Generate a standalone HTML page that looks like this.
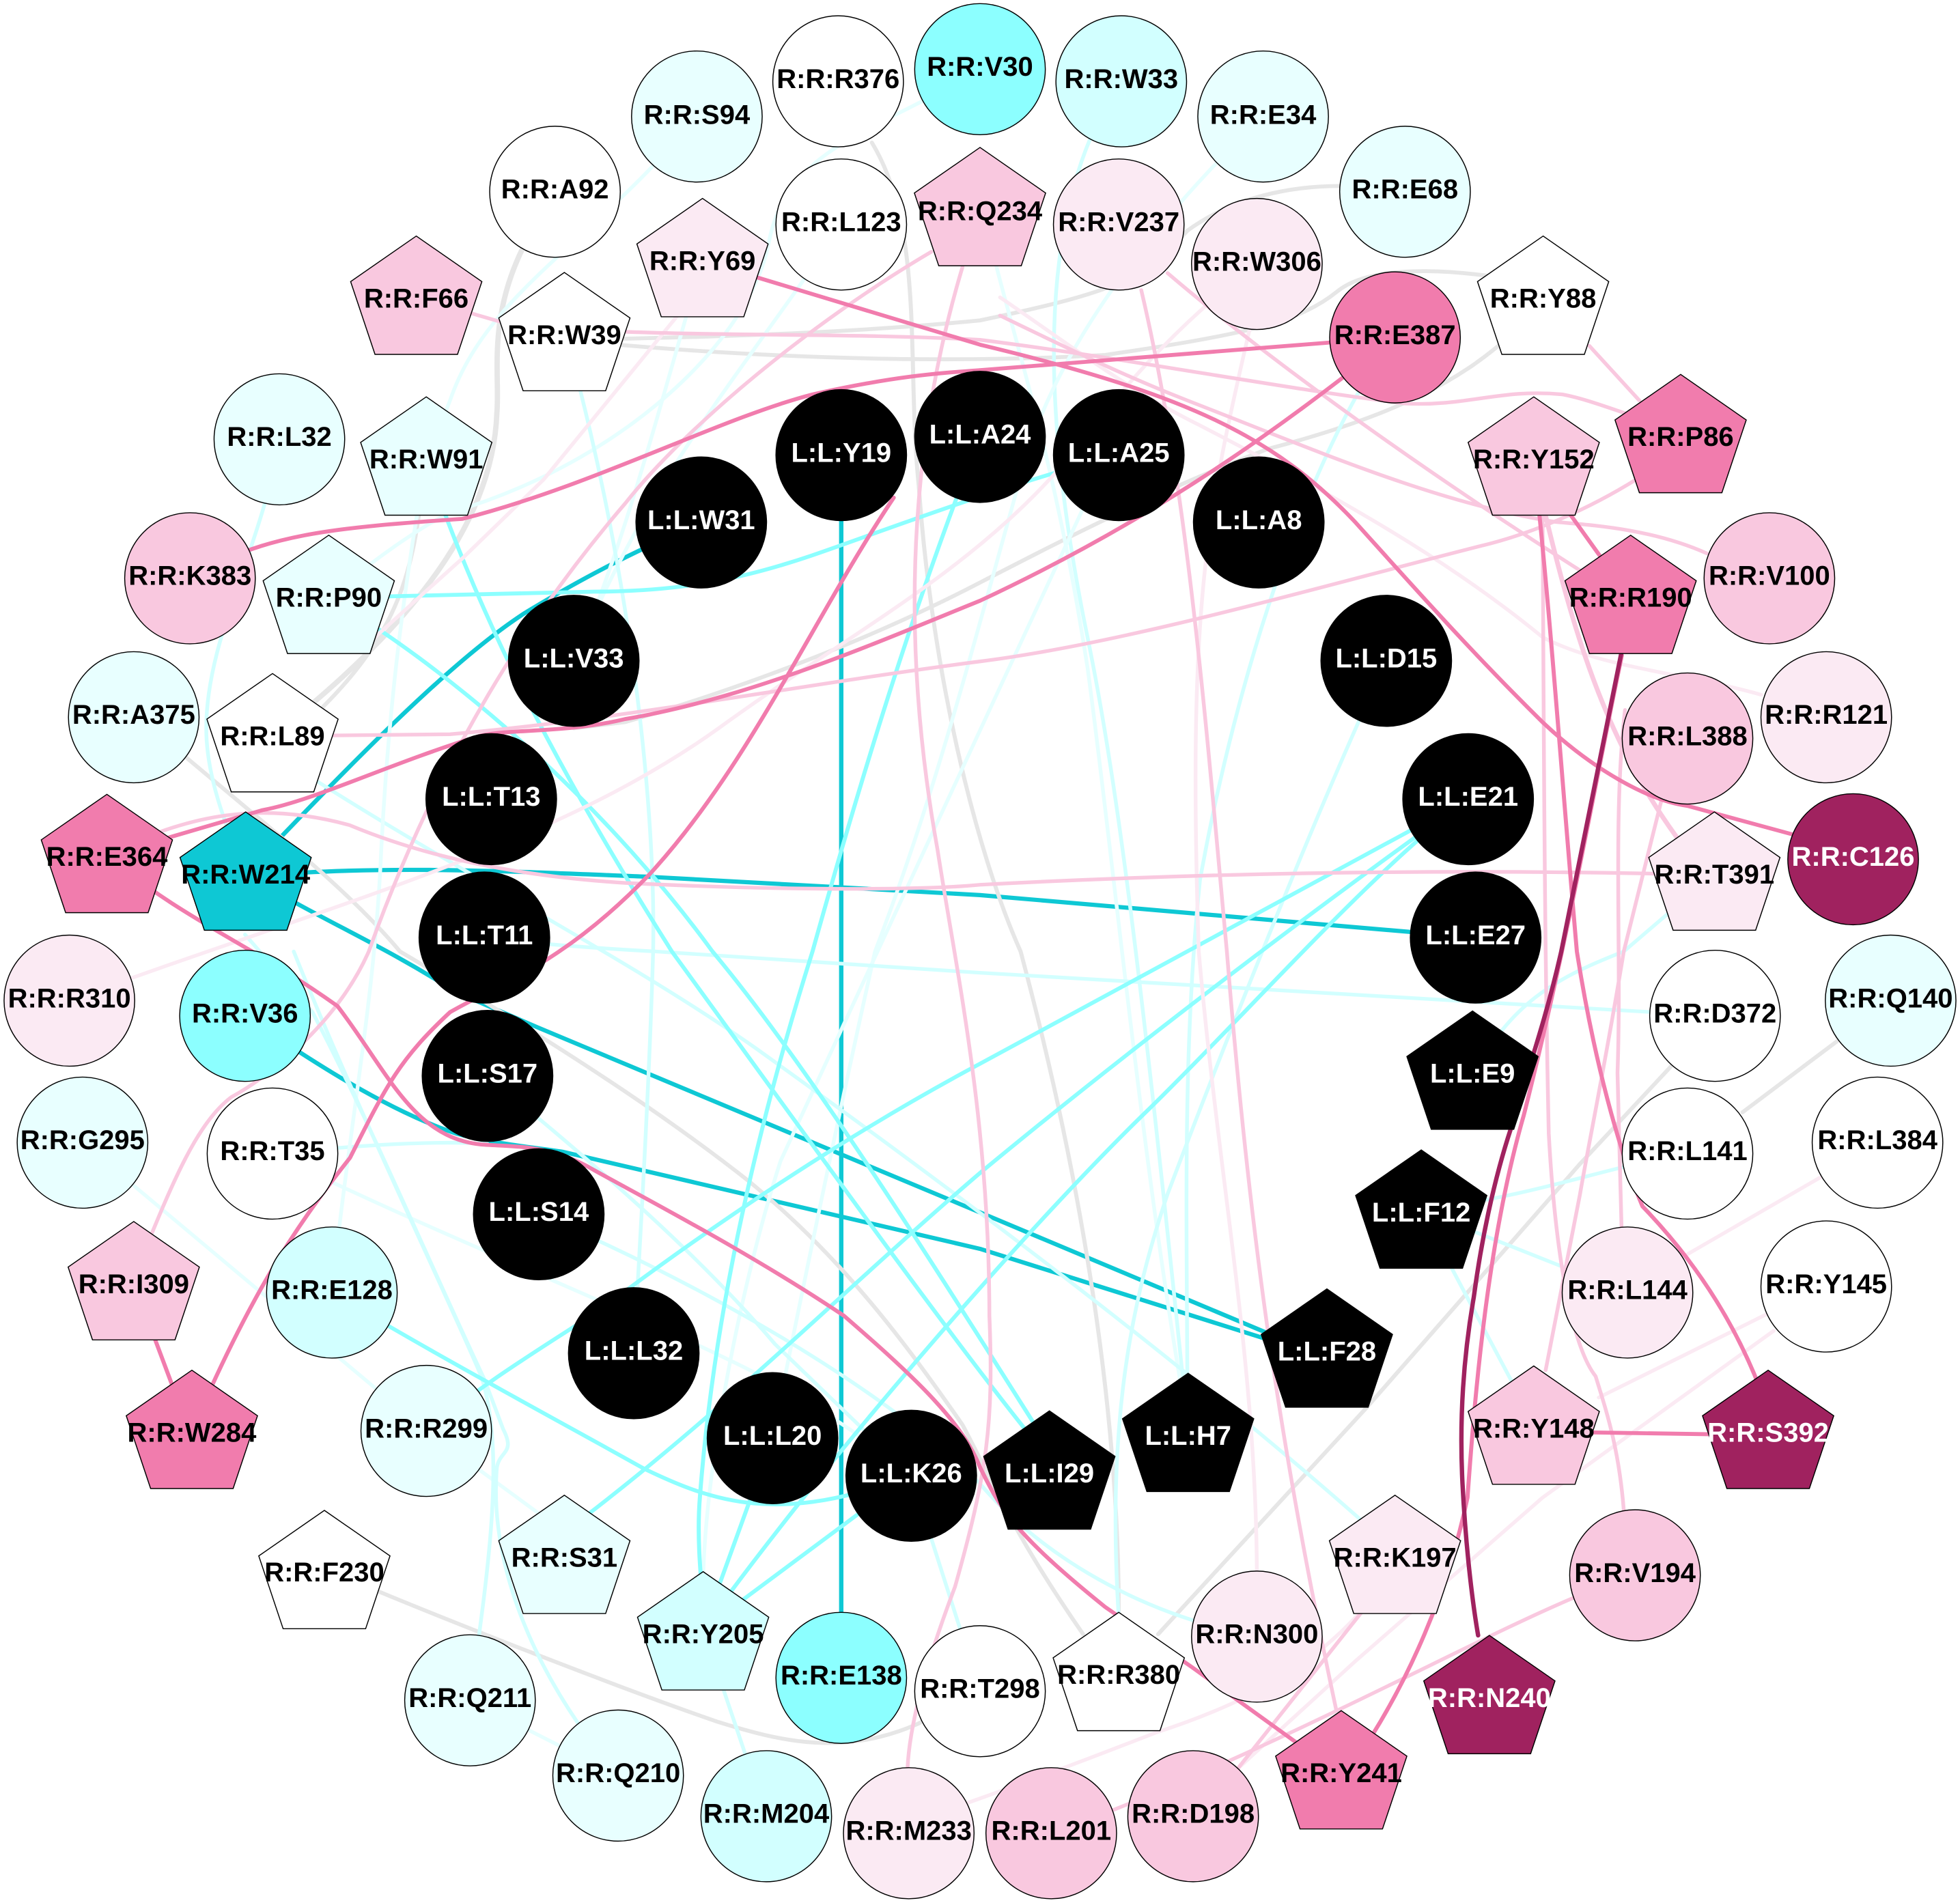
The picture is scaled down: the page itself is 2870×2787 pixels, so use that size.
<!DOCTYPE html>
<html><head><meta charset="utf-8"><style>
html,body{margin:0;padding:0;background:#fff}
svg{display:block}
path{fill:none;stroke-linecap:round;stroke-linejoin:round}
.g path{stroke:#e6e6e6;stroke-width:6.5}
.l path{stroke:#e6ffff;stroke-width:6}
.l path.d{stroke:#d2ffff}
.c path{stroke:#8cffff;stroke-width:6.5}
.q path{stroke:#fbeaf3;stroke-width:6}
.k path{stroke:#f9c8df;stroke-width:6}
.h path{stroke:#f17cad;stroke-width:6.5}
.t path{stroke:#0ec8d4;stroke-width:7}
.m path{stroke:#a0225f;stroke-width:7}
ellipse,polygon{stroke:#000;stroke-width:1.6}
text{font-family:"Liberation Sans",Arial,sans-serif;font-weight:bold;font-size:45px;text-anchor:middle;fill:#000;text-rendering:geometricPrecision;transform-box:fill-box;transform-origin:center;transform:scaleX(.971)}
text.w{fill:#fff}
</style></head><body>
<svg xmlns="http://www.w3.org/2000/svg" width="2870" height="2787" viewBox="0 0 3136 3136" preserveAspectRatio="none">
<rect width="3136" height="3136" fill="#fff"/>
<g class="t">
<path d="M1346 750V2765"/>
<path d="M393 1440C560 1260 720 1090 840 1010C920 960 1000 915 1122 861"/>
<path d="M393 1445C600 1425 800 1435 1040 1445L1568 1475L2361 1545"/>
<path d="M393 1440C520 1520 600 1550 730 1635L860 1693L1568 1998L2123 2238"/>
<path d="M392 1674C500 1750 620 1830 730 1868C790 1885 850 1890 900 1898L1568 2058L2123 2238"/>
</g>
<g class="g">
<path style="stroke-width:8.5" d="M835 412C780 530 800 620 795 680C790 830 700 1000 436 1213"/>
<path d="M670 850C650 1000 600 1100 436 1240"/>
<path d="M1395 235C1480 380 1450 600 1470 800C1490 1100 1560 1400 1633 1568C1700 1825 1790 2245 1790 2658"/>
<path d="M2248 316C2100 290 1980 320 1900 380C1830 460 1790 480 1568 528C1400 545 1200 555 903 560"/>
<path d="M2469 470C2350 445 2200 430 2140 480C2080 530 2000 550 1768 585C1600 595 1300 600 903 560"/>
<path d="M2403 565C2340 620 2250 680 2028 740C1850 810 1700 890 1568 960C1400 1050 1200 1130 1000 1190L918 1200"/>
<path d="M214 1182L300 1250C450 1380 560 1470 640 1568C750 1635 1000 1785 1200 1948C1350 2075 1450 2215 1540 2348C1590 2445 1620 2525 1733 2693"/>
<path d="M2744 1674L2673 1758L2528 1918L2188 2318L1853 2693"/>
<path d="M2943 1713L2788 1833"/>
<path d="M519 2585C700 2665 1000 2785 1150 2838C1250 2870 1350 2895 1470 2840L1568 2787"/>
</g>
<g class="l">
<path d="M1568 114C1400 220 1260 240 1230 400C1200 560 1000 760 720 845C670 870 600 920 526 985"/>
<path d="M1115 192C950 400 780 480 720 660L682 760"/>
<path d="M1346 370C1200 600 1050 760 918 1089"/>
<path d="M1124 430C1060 650 1000 900 918 1089"/>
<path class="d" d="M903 545C1000 900 1050 1300 1045 1568C1040 1745 1030 1945 1014 2230"/>
<path class="d" d="M1794 134C1650 350 1670 700 1740 1050C1790 1300 1830 1645 1900 2345"/>
<path d="M2021 192C1870 340 1700 550 1640 760C1560 1050 1500 1300 1400 1568C1340 1845 1280 2145 1236 2370"/>
<path d="M1750 800L1502 1350L1249 1913C1190 2100 1130 2400 1125 2600"/>
<path d="M1568 320C1600 500 1680 700 1740 1100C1780 1400 1830 1945 1900 2345"/>
<path class="d" d="M2218 1089C2100 1350 1950 1745 1868 1968C1810 2145 1770 2345 1790 2665"/>
<path class="d" d="M2232 556C2120 700 1990 1050 1920 1450C1890 1745 1900 2045 1900 2365"/>
<path class="d" d="M436 1901C600 1885 700 1880 780 1885"/>
<path d="M436 1901C700 2035 1000 2155 1200 2258C1290 2305 1380 2365 1458 2432"/>
<path class="d" d="M775 1545C900 1560 1000 1565 1050 1568L1568 1603L2744 1674"/>
<path class="d" d="M436 1240C700 1420 1000 1575 1210 1728C1450 1905 1900 2245 2232 2555"/>
<path class="d" d="M2700 1901C2560 1925 2480 1965 2274 1995"/>
<path class="d" d="M2274 1995L2454 2345"/>
<path class="d" d="M2604 2130L2274 1995"/>
<path class="d" d="M2356 1770C2420 1655 2480 1615 2598 1568L2743 1440"/>
<path d="M531 2130C560 1845 600 1645 610 1400C620 1200 640 1000 682 760"/>
<path d="M132 1883L682 2358"/>
<path d="M682 2358L903 2525"/>
<path class="d" d="M752 2802C780 2595 810 2395 770 2268C720 2145 570 1825 470 1568"/>
<path class="d" d="M989 2926C880 2795 780 2605 795 2418C800 2390 825 2395 805 2355L775 2273C680 2065 590 1845 500 1668L392 1540"/>
<path d="M752 2802L989 2926"/>
<path class="d" d="M1226 2993L1125 2685"/>
<path class="d" d="M1458 2432L1568 2787"/>
<path class="d" d="M862 2001C1100 2105 1400 2275 1568 2445C1650 2545 1800 2655 2011 2697"/>
<path class="d" d="M780 1773C900 1875 1100 2045 1240 2215L1458 2432"/>
<path class="d" d="M447 724C420 900 330 1050 330 1200C330 1290 370 1380 393 1440"/>
</g>
<g class="c">
<path d="M526 985L950 975C1100 975 1200 950 1300 915C1400 880 1600 800 1790 750"/>
<path d="M682 760C760 1000 880 1250 1075 1568C1250 1815 1500 2175 1640 2355"/>
<path d="M526 985C700 1090 950 1300 1140 1568C1300 1765 1500 2095 1660 2355"/>
<path d="M531 2130C700 2235 900 2345 1030 2420C1140 2475 1250 2515 1458 2430"/>
<path d="M2349 1317L1568 1753C1400 1845 1200 1975 1000 2128C930 2185 800 2255 682 2358"/>
<path d="M2349 1317C2100 1500 1800 1735 1568 1933C1350 2125 1150 2335 903 2525"/>
<path d="M2349 1317C2200 1430 2000 1665 1838 1828C1670 1995 1350 2365 1125 2685"/>
<path d="M1568 720C1480 950 1400 1200 1300 1568C1200 1895 1140 2195 1120 2465C1115 2525 1120 2585 1125 2645"/>
<path d="M1236 2370L1125 2685"/>
<path d="M1458 2430L1125 2685"/>
</g>
<g class="q">
<path d="M2838 2193L2468 2468L2168 2738L1980 2915"/>
<path d="M2828 2165L2558 2303"/>
<path d="M2913 1940L2698 2068"/>
<path d="M111 1649C500 1500 880 1400 1150 1200C1350 1050 1540 950 1688 780C1760 690 1850 560 2011 435"/>
<path d="M2178 2655C2100 2745 2000 2805 1850 2855C1750 2895 1650 2935 1454 3005"/>
<path d="M2000 540C1930 850 1900 1000 1918 1568C1950 1945 2010 2245 2011 2595"/>
<path d="M2818 1145C2700 1110 2560 1100 2468 1050C2350 950 2200 850 1918 700C1800 640 1700 560 1600 490"/>
<path d="M1100 500L870 790L740 920L600 1050"/>
</g>
<g class="k">
<path d="M1540 440C1470 680 1430 1000 1500 1400C1530 1600 1583 1845 1583 2168C1590 2345 1580 2425 1528 2615C1480 2745 1455 2845 1452 2915"/>
<path d="M1490 415C1300 530 1100 700 1000 830C850 1010 700 1250 590 1568C540 1685 430 1775 370 1808C310 1855 270 1965 214 2105"/>
<path d="M1826 478C1900 800 1930 1200 1963 1568C2000 2045 2050 2395 2138 2818"/>
<path d="M2543 570L2623 660"/>
<path d="M666 490L800 530C1000 560 1300 545 1568 560C1800 590 2050 640 2248 665C2350 670 2400 640 2500 650C2550 660 2590 680 2689 710"/>
<path d="M2731 912C2640 870 2540 865 2488 860C2300 830 2100 740 1900 660C1800 620 1700 570 1600 520"/>
<path d="M1868 450C2050 610 2300 790 2528 940"/>
<path d="M436 1213L720 1210C1000 1185 1300 1125 1568 1090C1800 1060 2100 970 2368 900C2450 880 2540 840 2618 790"/>
<path d="M171 1410C300 1340 420 1320 560 1360C700 1420 850 1445 1000 1455C1300 1470 1500 1465 1568 1458C1900 1440 2300 1430 2743 1442"/>
<path d="M2658 1320L2598 1568C2570 1745 2540 1895 2528 1968L2473 2258"/>
<path d="M2468 850C2470 1100 2470 1500 2478 1868C2490 2095 2520 2225 2553 2268C2570 2325 2590 2385 2598 2488"/>
<path style="stroke-width:7.5" d="M2473 850C2520 1050 2570 1220 2683 1380"/>
<path d="M2600 1170C2580 1350 2595 1568 2588 1768L2595 2045"/>
<path d="M2518 2633C2350 2705 2000 2905 1682 3021"/>
<path d="M2180 2655L1980 2915"/>
</g>
<g class="h">
<path d="M1124 430L1568 568C1900 650 2040 720 2168 860C2260 965 2350 1070 2468 1190C2550 1270 2640 1320 2700 1328L2868 1375L2965 1416"/>
<path d="M304 953C420 880 530 870 740 855C950 800 1150 690 1300 650C1430 620 1500 615 1568 610L2232 556"/>
<path d="M2232 556C2100 660 1900 830 1568 990C1400 1060 1200 1150 1000 1185C900 1210 800 1200 760 1215C620 1260 500 1320 420 1335L171 1410"/>
<path d="M171 1410C300 1520 400 1555 540 1658C620 1765 660 1875 770 1886C820 1890 880 1885 950 1928C1050 1985 1200 2065 1350 2168C1470 2275 1540 2345 1568 2418C1600 2485 1620 2525 1768 2648L1908 2748L2146 2925"/>
<path d="M307 2358C400 2135 470 2025 560 1908C620 1785 640 1745 720 1668C800 1620 900 1590 1040 1440C1200 1260 1300 1020 1430 820"/>
<path d="M240 2185L280 2295"/>
<path d="M2454 2359L2829 2365"/>
<path d="M2500 830L2580 945"/>
<path d="M2454 760C2480 1000 2500 1300 2523 1568C2550 1745 2590 1895 2628 1988C2700 2065 2780 2175 2829 2325"/>
<path d="M2595 1080C2550 1300 2510 1545 2438 1838C2380 2045 2360 2295 2348 2468C2320 2605 2260 2775 2146 2935"/>
</g>
<g class="m">
<path d="M2609 1000L2498 1568C2470 1695 2440 1775 2418 1858C2390 1945 2370 2045 2358 2138C2340 2245 2335 2345 2340 2445C2345 2545 2355 2635 2365 2695"/>
</g>

<!-- circles -->
<ellipse cx="1115" cy="192" rx="104.5" ry="108" fill="#e8ffff"/><text x="1115" y="204">R:R:S94</text>
<ellipse cx="1341" cy="134" rx="104.5" ry="108" fill="#fff"/><text x="1341" y="145">R:R:R376</text>
<ellipse cx="1568" cy="114" rx="104.5" ry="108" fill="#8cffff"/><text x="1568" y="125">R:R:V30</text>
<ellipse cx="888" cy="316" rx="104.5" ry="108" fill="#fff"/><text x="888" y="327">R:R:A92</text>
<ellipse cx="1346" cy="370" rx="104.5" ry="108" fill="#fff"/><text x="1346" y="381">R:R:L123</text>
<ellipse cx="447" cy="724" rx="104.5" ry="108" fill="#e8ffff"/><text x="447" y="735">R:R:L32</text>
<ellipse cx="304" cy="953" rx="104.5" ry="108" fill="#f9c8df"/><text x="304" y="964">R:R:K383</text>
<ellipse cx="214" cy="1182" rx="104.5" ry="108" fill="#e8ffff"/><text x="214" y="1193">R:R:A375</text>
<ellipse cx="1794" cy="134" rx="104.5" ry="108" fill="#d2ffff"/><text x="1794" y="145">R:R:W33</text>
<ellipse cx="2021" cy="192" rx="104.5" ry="108" fill="#e8ffff"/><text x="2021" y="204">R:R:E34</text>
<ellipse cx="2248" cy="316" rx="104.5" ry="108" fill="#e8ffff"/><text x="2248" y="327">R:R:E68</text>
<ellipse cx="1790" cy="370" rx="104.5" ry="108" fill="#fbeaf3"/><text x="1790" y="381">R:R:V237</text>
<ellipse cx="2011" cy="435" rx="104.5" ry="108" fill="#fbeaf3"/><text x="2011" y="446">R:R:W306</text>
<ellipse cx="2232" cy="556" rx="104.5" ry="108" fill="#f17cad"/><text x="2232" y="567">R:R:E387</text>
<ellipse cx="2831" cy="953" rx="104.5" ry="108" fill="#f9c8df"/><text x="2831" y="964">R:R:V100</text>
<ellipse cx="2922" cy="1182" rx="104.5" ry="108" fill="#fbeaf3"/><text x="2922" y="1193">R:R:R121</text>
<ellipse cx="2700" cy="1217" rx="104.5" ry="108" fill="#f9c8df"/><text x="2700" y="1228">R:R:L388</text>
<ellipse cx="2965" cy="1416" rx="104.5" ry="108" fill="#a0225f"/><text class="w" x="2965" y="1427">R:R:C126</text>
<ellipse cx="111" cy="1649" rx="104.5" ry="108" fill="#fbeaf3"/><text x="111" y="1660">R:R:R310</text>
<ellipse cx="392" cy="1674" rx="104.5" ry="108" fill="#8cffff"/><text x="392" y="1685">R:R:V36</text>
<ellipse cx="132" cy="1883" rx="104.5" ry="108" fill="#e8ffff"/><text x="132" y="1894">R:R:G295</text>
<ellipse cx="436" cy="1901" rx="104.5" ry="108" fill="#fff"/><text x="436" y="1912">R:R:T35</text>
<ellipse cx="531" cy="2130" rx="104.5" ry="108" fill="#d2ffff"/><text x="531" y="2141">R:R:E128</text>
<ellipse cx="682" cy="2358" rx="104.5" ry="108" fill="#e8ffff"/><text x="682" y="2369">R:R:R299</text>
<ellipse cx="1346" cy="2765" rx="104.5" ry="108" fill="#8cffff"/><text x="1346" y="2776">R:R:E138</text>
<ellipse cx="752" cy="2802" rx="104.5" ry="108" fill="#e8ffff"/><text x="752" y="2813">R:R:Q211</text>
<ellipse cx="989" cy="2926" rx="104.5" ry="108" fill="#e8ffff"/><text x="989" y="2937">R:R:Q210</text>
<ellipse cx="1226" cy="2993" rx="104.5" ry="108" fill="#d2ffff"/><text x="1226" y="3004">R:R:M204</text>
<ellipse cx="1454" cy="3021" rx="104.5" ry="108" fill="#fbeaf3"/><text x="1454" y="3032">R:R:M233</text>
<ellipse cx="1568" cy="2787" rx="104.5" ry="108" fill="#fff"/><text x="1568" y="2798">R:R:T298</text>
<ellipse cx="2744" cy="1674" rx="104.5" ry="108" fill="#fff"/><text x="2744" y="1685">R:R:D372</text>
<ellipse cx="3025" cy="1649" rx="104.5" ry="108" fill="#e8ffff"/><text x="3025" y="1660">R:R:Q140</text>
<ellipse cx="2700" cy="1901" rx="104.5" ry="108" fill="#fff"/><text x="2700" y="1912">R:R:L141</text>
<ellipse cx="3004" cy="1883" rx="104.5" ry="108" fill="#fff"/><text x="3004" y="1894">R:R:L384</text>
<ellipse cx="2604" cy="2130" rx="104.5" ry="108" fill="#fbeaf3"/><text x="2604" y="2141">R:R:L144</text>
<ellipse cx="2922" cy="2120" rx="104.5" ry="108" fill="#fff"/><text x="2922" y="2131">R:R:Y145</text>
<ellipse cx="2616" cy="2596" rx="104.5" ry="108" fill="#f9c8df"/><text x="2616" y="2607">R:R:V194</text>
<ellipse cx="2011" cy="2697" rx="104.5" ry="108" fill="#fbeaf3"/><text x="2011" y="2708">R:R:N300</text>
<ellipse cx="1682" cy="3021" rx="104.5" ry="108" fill="#f9c8df"/><text x="1682" y="3032">R:R:L201</text>
<ellipse cx="1909" cy="2993" rx="104.5" ry="108" fill="#f9c8df"/><text x="1909" y="3004">R:R:D198</text>

<!-- black circles -->
<ellipse cx="1346" cy="750" rx="104.5" ry="108" fill="#000"/><text class="w" x="1346" y="761">L:L:Y19</text>
<ellipse cx="1568" cy="720" rx="104.5" ry="108" fill="#000"/><text class="w" x="1568" y="731">L:L:A24</text>
<ellipse cx="1122" cy="861" rx="104.5" ry="108" fill="#000"/><text class="w" x="1122" y="872">L:L:W31</text>
<ellipse cx="918" cy="1089" rx="104.5" ry="108" fill="#000"/><text class="w" x="918" y="1100">L:L:V33</text>
<ellipse cx="786" cy="1317" rx="104.5" ry="108" fill="#000"/><text class="w" x="786" y="1328">L:L:T13</text>
<ellipse cx="775" cy="1545" rx="104.5" ry="108" fill="#000"/><text class="w" x="775" y="1556">L:L:T11</text>
<ellipse cx="1790" cy="750" rx="104.5" ry="108" fill="#000"/><text class="w" x="1790" y="761">L:L:A25</text>
<ellipse cx="2014" cy="861" rx="104.5" ry="108" fill="#000"/><text class="w" x="2014" y="872">L:L:A8</text>
<ellipse cx="2218" cy="1089" rx="104.5" ry="108" fill="#000"/><text class="w" x="2218" y="1100">L:L:D15</text>
<ellipse cx="2349" cy="1317" rx="104.5" ry="108" fill="#000"/><text class="w" x="2349" y="1328">L:L:E21</text>
<ellipse cx="2361" cy="1545" rx="104.5" ry="108" fill="#000"/><text class="w" x="2361" y="1556">L:L:E27</text>
<ellipse cx="780" cy="1773" rx="104.5" ry="108" fill="#000"/><text class="w" x="780" y="1784">L:L:S17</text>
<ellipse cx="862" cy="2001" rx="104.5" ry="108" fill="#000"/><text class="w" x="862" y="2012">L:L:S14</text>
<ellipse cx="1014" cy="2230" rx="104.5" ry="108" fill="#000"/><text class="w" x="1014" y="2241">L:L:L32</text>
<ellipse cx="1236" cy="2370" rx="104.5" ry="108" fill="#000"/><text class="w" x="1236" y="2381">L:L:L20</text>
<ellipse cx="1458" cy="2432" rx="104.5" ry="108" fill="#000"/><text class="w" x="1458" y="2443">L:L:K26</text>

<!-- pentagons -->
<polygon transform="translate(1124,327)" points="0,0 105,75 66,195 -66,195 -105,75" fill="#fbeaf3"/><text x="1124" y="445">R:R:Y69</text>
<polygon transform="translate(666,389)" points="0,0 105,75 66,195 -66,195 -105,75" fill="#f9c8df"/><text x="666" y="507">R:R:F66</text>
<polygon transform="translate(903,449)" points="0,0 105,75 66,195 -66,195 -105,75" fill="#fff"/><text x="903" y="567">R:R:W39</text>
<polygon transform="translate(682,654)" points="0,0 105,75 66,195 -66,195 -105,75" fill="#e8ffff"/><text x="682" y="772">R:R:W91</text>
<polygon transform="translate(526,882)" points="0,0 105,75 66,195 -66,195 -105,75" fill="#e8ffff"/><text x="526" y="1000">R:R:P90</text>
<polygon transform="translate(436,1110)" points="0,0 105,75 66,195 -66,195 -105,75" fill="#fff"/><text x="436" y="1228">R:R:L89</text>
<polygon transform="translate(171,1309)" points="0,0 105,75 66,195 -66,195 -105,75" fill="#f17cad"/><text x="171" y="1427">R:R:E364</text>
<polygon transform="translate(393,1338)" points="0,0 105,75 66,195 -66,195 -105,75" fill="#0ec8d4"/><text x="393" y="1456">R:R:W214</text>
<polygon transform="translate(1568,243)" points="0,0 105,75 66,195 -66,195 -105,75" fill="#f9c8df"/><text x="1568" y="363">R:R:Q234</text>
<polygon transform="translate(2469,389)" points="0,0 105,75 66,195 -66,195 -105,75" fill="#fff"/><text x="2469" y="507">R:R:Y88</text>
<polygon transform="translate(2689,617)" points="0,0 105,75 66,195 -66,195 -105,75" fill="#f17cad"/><text x="2689" y="735">R:R:P86</text>
<polygon transform="translate(2454,654)" points="0,0 105,75 66,195 -66,195 -105,75" fill="#f9c8df"/><text x="2454" y="772">R:R:Y152</text>
<polygon transform="translate(2609,882)" points="0,0 105,75 66,195 -66,195 -105,75" fill="#f17cad"/><text x="2609" y="1000">R:R:R190</text>
<polygon transform="translate(2743,1338)" points="0,0 105,75 66,195 -66,195 -105,75" fill="#fbeaf3"/><text x="2743" y="1456">R:R:T391</text>
<polygon transform="translate(214,2013)" points="0,0 105,75 66,195 -66,195 -105,75" fill="#f9c8df"/><text x="214" y="2131">R:R:I309</text>
<polygon transform="translate(307,2258)" points="0,0 105,75 66,195 -66,195 -105,75" fill="#f17cad"/><text x="307" y="2376">R:R:W284</text>
<polygon transform="translate(519,2489)" points="0,0 105,75 66,195 -66,195 -105,75" fill="#fff"/><text x="519" y="2606">R:R:F230</text>
<polygon transform="translate(903,2464)" points="0,0 105,75 66,195 -66,195 -105,75" fill="#e8ffff"/><text x="903" y="2582">R:R:S31</text>
<polygon transform="translate(1125,2590)" points="0,0 105,75 66,195 -66,195 -105,75" fill="#d2ffff"/><text x="1125" y="2708">R:R:Y205</text>
<polygon transform="translate(2454,2251)" points="0,0 105,75 66,195 -66,195 -105,75" fill="#f9c8df"/><text x="2454" y="2369">R:R:Y148</text>
<polygon transform="translate(2829,2258)" points="0,0 105,75 66,195 -66,195 -105,75" fill="#a0225f"/><text class="w" x="2829" y="2376">R:R:S392</text>
<polygon transform="translate(2232,2464)" points="0,0 105,75 66,195 -66,195 -105,75" fill="#fbeaf3"/><text x="2232" y="2582">R:R:K197</text>
<polygon transform="translate(1790,2657)" points="0,0 105,75 66,195 -66,195 -105,75" fill="#fff"/><text x="1790" y="2775">R:R:R380</text>
<polygon transform="translate(2383,2695)" points="0,0 105,75 66,195 -66,195 -105,75" fill="#a0225f"/><text class="w" x="2383" y="2813">R:R:N240</text>
<polygon transform="translate(2146,2819)" points="0,0 105,75 66,195 -66,195 -105,75" fill="#f17cad"/><text x="2146" y="2937">R:R:Y241</text>
<polygon transform="translate(2356,1666)" points="0,0 105,75 66,195 -66,195 -105,75" fill="#000"/><text class="w" x="2356" y="1784">L:L:E9</text>
<polygon transform="translate(2274,1895)" points="0,0 105,75 66,195 -66,195 -105,75" fill="#000"/><text class="w" x="2274" y="2013">L:L:F12</text>
<polygon transform="translate(2123,2124)" points="0,0 105,75 66,195 -66,195 -105,75" fill="#000"/><text class="w" x="2123" y="2242">L:L:F28</text>
<polygon transform="translate(1679,2325)" points="0,0 105,75 66,195 -66,195 -105,75" fill="#000"/><text class="w" x="1679" y="2443">L:L:I29</text>
<polygon transform="translate(1901,2263)" points="0,0 105,75 66,195 -66,195 -105,75" fill="#000"/><text class="w" x="1901" y="2381">L:L:H7</text>
</svg>
</body></html>
